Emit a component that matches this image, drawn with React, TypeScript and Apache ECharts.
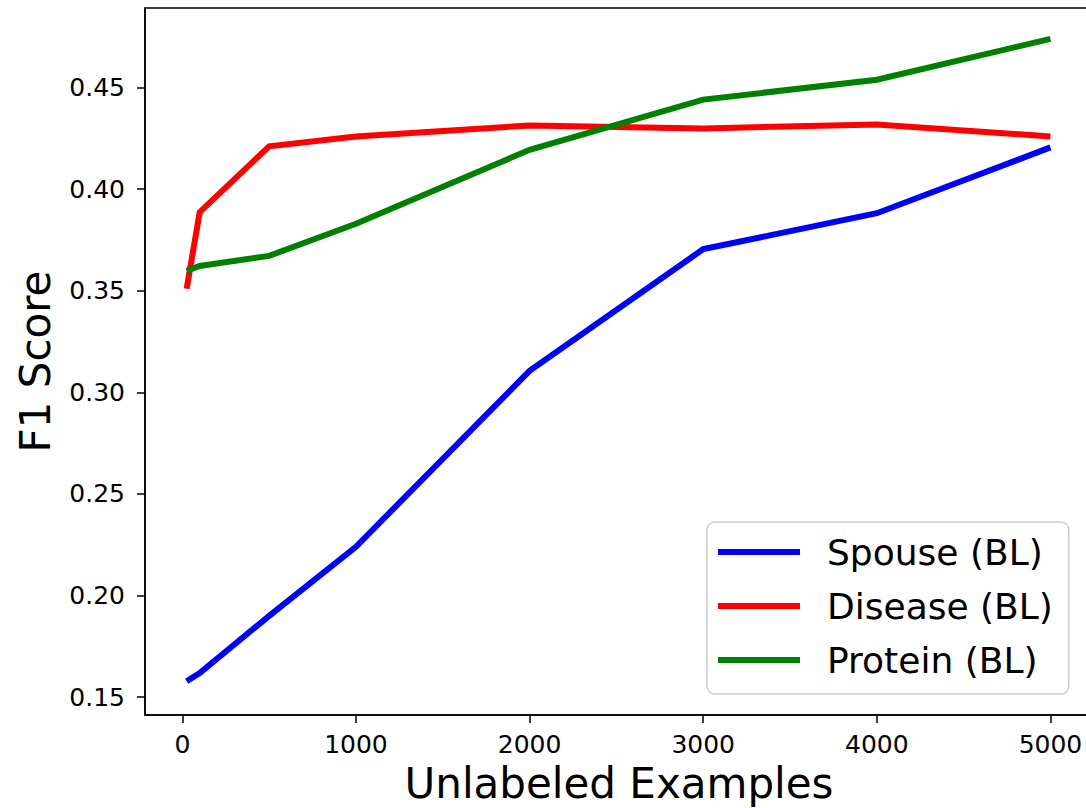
import React, { useEffect, useRef } from "react";
import * as echarts from "echarts";

const xValues = [25, 100, 500, 1000, 2000, 3000, 4000, 5000];
const spouse = [0.1578, 0.1618, 0.190, 0.2240, 0.3106, 0.3705, 0.3882, 0.4206];
const disease = [0.351, 0.3887, 0.4211, 0.426, 0.4314, 0.4299, 0.4319, 0.426];
const protein = [0.3598, 0.3622, 0.3672, 0.383, 0.4194, 0.4441, 0.4539, 0.474];
const xTicks = [0, 1000, 2000, 3000, 4000, 5000];
const yTicks = [0.15, 0.2, 0.25, 0.3, 0.35, 0.4, 0.45];
const seriesNames = ["Spouse (BL)", "Disease (BL)", "Protein (BL)"];
const seriesColors = ["#0000ff", "#ff0000", "#008000"];

const FONT = "DejaVu Sans";

export default function App() {
  const ref = useRef<HTMLDivElement>(null);
  useEffect(() => {
    if (!ref.current) return;
    const chart = echarts.init(ref.current, undefined, { renderer: "svg" });
    const all = [spouse, disease, protein];
    chart.setOption({
      animation: false,
      backgroundColor: "#ffffff",
      grid: {
        left: 145,
        top: 8,
        width: 948,
        height: 707,
        show: true,
        borderColor: "#000",
        borderWidth: 1.5,
        backgroundColor: "transparent",
        containLabel: false,
        outerBoundsMode: "none",
      },
      xAxis: {
        type: "value",
        min: -215,
        max: 5245,
        name: "Unlabeled Examples",
        nameLocation: "middle",
        nameGap: 45,
        nameTextStyle: { fontFamily: FONT, fontSize: 42, color: "#000", lineHeight: 44 },
        axisLine: { show: true, onZero: false, lineStyle: { color: "#000", width: 1.5 } },
        splitLine: { show: false },
        axisTick: {
          show: true,
          length: 8,
          lineStyle: { color: "#000", width: 1.5 },
          customValues: xTicks,
        },
        axisLabel: {
          fontFamily: FONT,
          fontSize: 25,
          color: "#000",
          margin: 17,
          customValues: xTicks,
          formatter: (v: number) => String(v),
        },
      },
      yAxis: {
        type: "value",
        min: 0.1412,
        max: 0.4892,
        name: "F1 Score",
        nameLocation: "middle",
        nameGap: 89,
        nameTextStyle: { fontFamily: FONT, fontSize: 42, color: "#000" },
        axisLine: { show: true, onZero: false, lineStyle: { color: "#000", width: 1.5 } },
        splitLine: { show: false },
        axisTick: {
          show: true,
          length: 8,
          lineStyle: { color: "#000", width: 1.5 },
          customValues: yTicks,
        },
        axisLabel: {
          fontFamily: FONT,
          fontSize: 25,
          color: "#000",
          margin: 20,
          customValues: yTicks,
          formatter: (v: number) => v.toFixed(2),
        },
      },
      legend: {
        orient: "vertical",
        left: 707,
        top: 522,
        icon: "rect",
        itemWidth: 82,
        itemHeight: 6,
        itemGap: 14,
        padding: [10, 16, 14, 11],
        backgroundColor: "#ffffff",
        borderColor: "#cccccc",
        borderWidth: 1.5,
        borderRadius: 8,
        textStyle: {
          fontFamily: FONT,
          fontSize: 36,
          color: "#000",
          lineHeight: 40,
          padding: [0, 0, 0, 22],
        },
        data: seriesNames,
      },
      series: seriesNames.map((name, i) => ({
        name,
        type: "line",
        data: xValues.map((x, j) => [x, all[i][j]]),
        showSymbol: false,
        symbol: "none",
        color: seriesColors[i],
        lineStyle: { color: seriesColors[i], width: 6, cap: "butt", join: "miter" },
      })),
    });
    return () => chart.dispose();
  }, []);
  return (
    <div
      ref={ref}
      style={{ position: "fixed", left: 0, top: 0, width: 1086, height: 808 }}
    />
  );
}
